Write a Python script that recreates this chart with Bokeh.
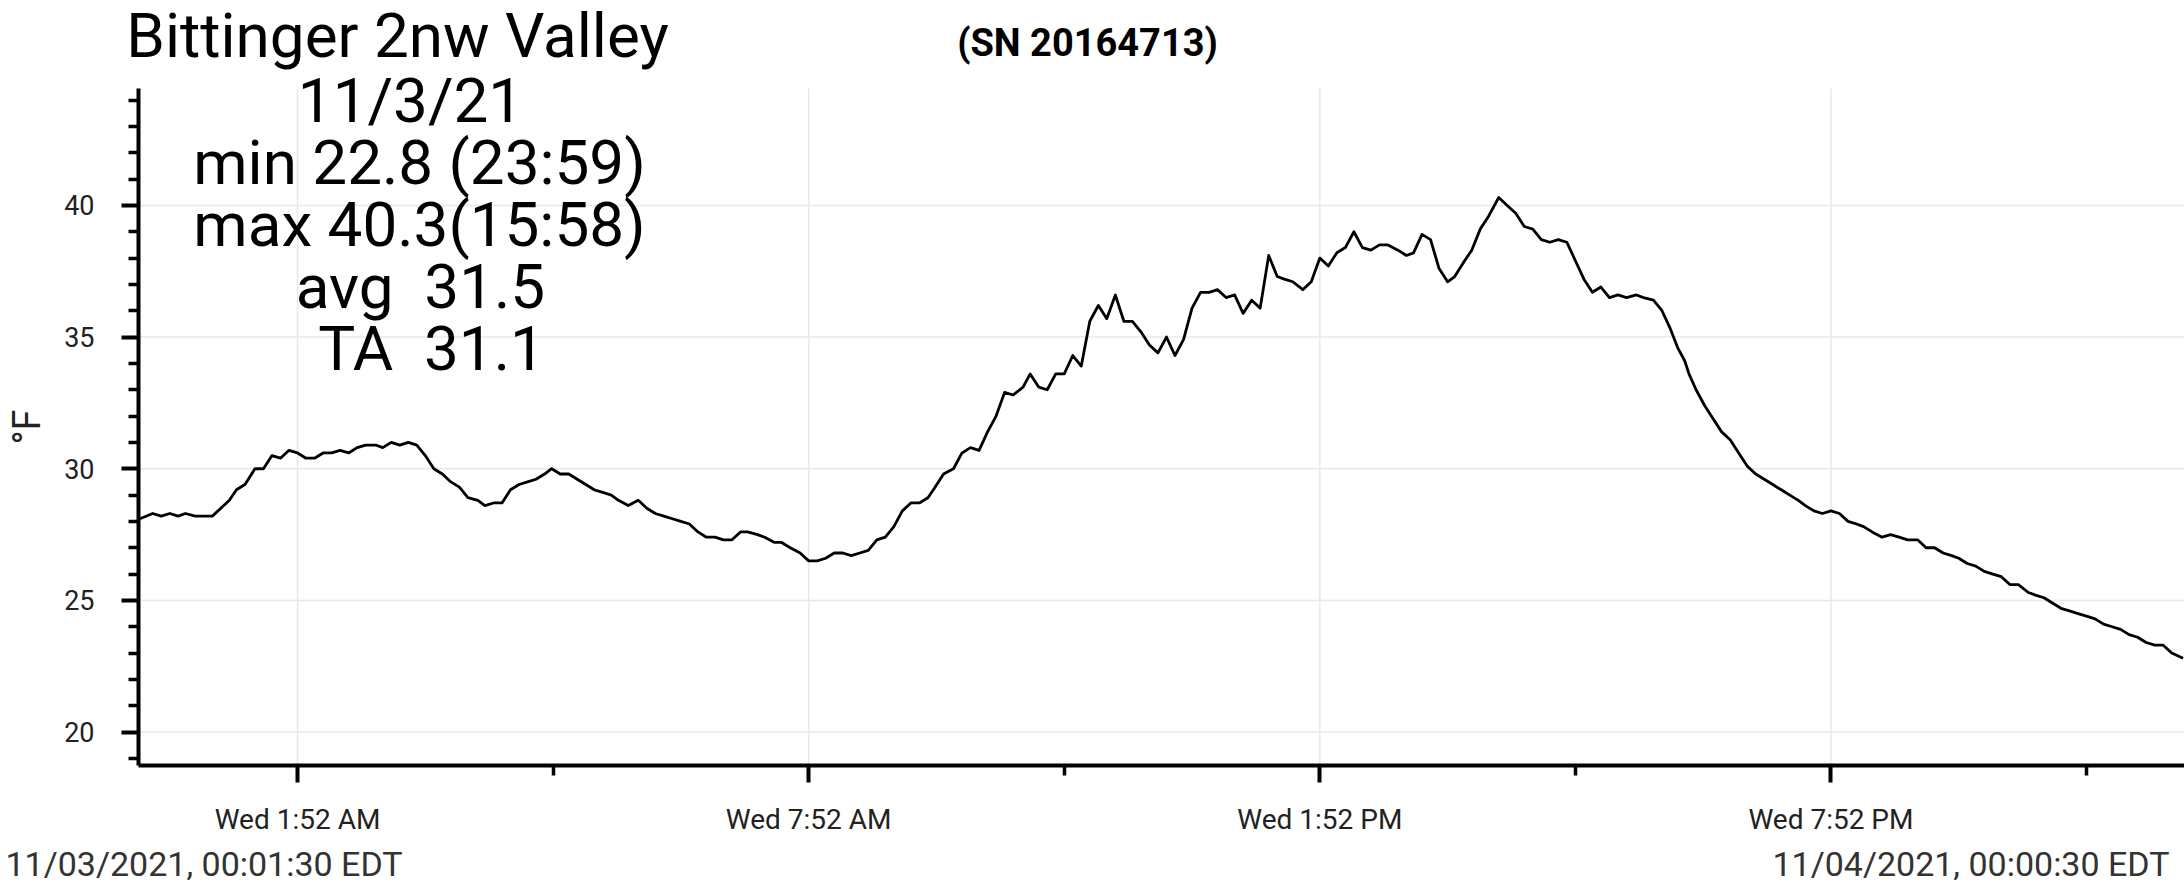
from bokeh.plotting import figure
from bokeh.models import Range1d, FixedTicker, Label
from bokeh.embed import file_html
from bokeh.resources import INLINE

# ---- data (minutes since midnight, °F) ----
minutes = [1, 10, 16, 22, 28, 33, 40, 46, 52, 58, 64, 69, 75, 82, 88, 94, 100, 106, 112, 118,
           124, 130, 136, 142, 148, 154, 160, 167, 172, 178, 184, 190, 196, 202, 208, 214, 220, 226, 232, 239,
           244, 250, 256, 262, 268, 274, 280, 286, 291, 297, 303, 309, 315, 321, 327, 333, 338, 345, 352, 358,
           364, 370, 376, 382, 388, 394, 400, 406, 412, 418, 424, 429, 436, 441, 448, 453, 459, 466, 472, 478,
           484, 490, 496, 502, 508, 514, 520, 526, 532, 538, 544, 550, 556, 561, 567, 574, 580, 586, 592, 598,
           604, 610, 616, 623, 628, 634, 640, 646, 652, 658, 664, 670, 676, 682, 688, 694, 700, 706, 712, 718,
           724, 730, 736, 742, 748, 754, 760, 766, 772, 778, 784, 790, 796, 802, 807, 813, 820, 826, 832, 838,
           844, 850, 856, 862, 868, 874, 880, 887, 893, 898, 904, 910, 916, 922, 927, 934, 939, 945, 951, 958,
           964, 970, 976, 982, 988, 994, 1000, 1006, 1012, 1018, 1024, 1030, 1036, 1042, 1048, 1055, 1060, 1067, 1073, 1079,
           1084, 1089, 1092, 1097, 1103, 1109, 1115, 1121, 1127, 1133, 1139, 1145, 1151, 1157, 1163, 1169, 1174, 1180, 1186, 1192,
           1198, 1204, 1210, 1215, 1221, 1228, 1234, 1240, 1246, 1253, 1259, 1265, 1271, 1277, 1282, 1288, 1294, 1300, 1306, 1312,
           1318, 1324, 1331, 1336, 1342, 1348, 1354, 1360, 1366, 1372, 1378, 1384, 1390, 1396, 1402, 1408, 1414, 1420, 1426, 1432,
           1440]
temps_f = [28.1, 28.3, 28.2, 28.3, 28.2, 28.3, 28.2, 28.2, 28.2, 28.5, 28.8, 29.2, 29.4, 30.0, 30.0, 30.5, 30.4, 30.7, 30.6, 30.4,
           30.4, 30.6, 30.6, 30.7, 30.6, 30.8, 30.9, 30.9, 30.8, 31.0, 30.9, 31.0, 30.9, 30.5, 30.0, 29.8, 29.5, 29.3, 28.9, 28.8,
           28.6, 28.7, 28.7, 29.2, 29.4, 29.5, 29.6, 29.8, 30.0, 29.8, 29.8, 29.6, 29.4, 29.2, 29.1, 29.0, 28.8, 28.6, 28.8, 28.5,
           28.3, 28.2, 28.1, 28.0, 27.9, 27.6, 27.4, 27.4, 27.3, 27.3, 27.6, 27.6, 27.5, 27.4, 27.2, 27.2, 27.0, 26.8, 26.5, 26.5,
           26.6, 26.8, 26.8, 26.7, 26.8, 26.9, 27.3, 27.4, 27.8, 28.4, 28.7, 28.7, 28.9, 29.3, 29.8, 30.0, 30.6, 30.8, 30.7, 31.4,
           32.0, 32.9, 32.8, 33.1, 33.6, 33.1, 33.0, 33.6, 33.6, 34.3, 33.9, 35.6, 36.2, 35.7, 36.6, 35.6, 35.6, 35.2, 34.7, 34.4,
           35.0, 34.3, 34.9, 36.1, 36.7, 36.7, 36.8, 36.5, 36.6, 35.9, 36.4, 36.1, 38.1, 37.3, 37.2, 37.1, 36.8, 37.1, 38.0, 37.7,
           38.2, 38.4, 39.0, 38.4, 38.3, 38.5, 38.5, 38.3, 38.1, 38.2, 38.9, 38.7, 37.6, 37.1, 37.3, 37.9, 38.3, 39.1, 39.6, 40.3,
           40.0, 39.7, 39.2, 39.1, 38.7, 38.6, 38.7, 38.6, 37.9, 37.2, 36.7, 36.9, 36.5, 36.6, 36.5, 36.6, 36.5, 36.4, 36.0, 35.3,
           34.6, 34.1, 33.6, 33.0, 32.4, 31.9, 31.4, 31.1, 30.6, 30.1, 29.8, 29.6, 29.4, 29.2, 29.0, 28.8, 28.6, 28.4, 28.3, 28.4,
           28.3, 28.0, 27.9, 27.8, 27.6, 27.4, 27.5, 27.4, 27.3, 27.3, 27.0, 27.0, 26.8, 26.7, 26.6, 26.4, 26.3, 26.1, 26.0, 25.9,
           25.6, 25.6, 25.3, 25.2, 25.1, 24.9, 24.7, 24.6, 24.5, 24.4, 24.3, 24.1, 24.0, 23.9, 23.7, 23.6, 23.4, 23.3, 23.3, 23.0,
           22.8]

x_tick_minutes = [112, 472, 832, 1192]
x_tick_labels = ["Wed 1:52 AM", "Wed 7:52 AM", "Wed 1:52 PM", "Wed 7:52 PM"]
x_minor_minutes = [292, 652, 1012, 1372]
y_ticks = [20, 25, 30, 35, 40]
y_minor_ticks = [19, 21, 22, 23, 24, 26, 27, 28, 29, 31, 32, 33, 34, 36, 37, 38, 39, 41, 42, 43, 44]

title_text = "Bittinger 2nw Valley"
serial_text = "(SN 20164713)"
stat_lines = ["11/3/21", "min 22.8 (23:59)", "max 40.3(15:58)", "avg \u00a031.5", "TA \u00a031.1"]
start_text = "11/03/2021, 00:01:30 EDT"
end_text = "11/04/2021, 00:00:30 EDT"
y_label = "°F"

# plotted data window
X0, X1 = 0, 1441
Y0, Y1 = 18.73, 44.44

# ---- layout (page pixels) ----
W, H = 2184, 896
FL, FR, FT, FB = 138, 2184, 88, 765          # where the plot area sits on the page
ppx = (FR - FL) / (X1 - X0)                    # px per minute
ppy = (FB - FT) / (Y1 - Y0)                    # px per degree
# the frame spans the whole canvas so that texts above/below the plot area are not clipped;
# axes are pinned to the data window with fixed_location + bounds
XR = Range1d(X0 - FL / ppx, X1 + (W - FR) / ppx)
YR = Range1d(Y0 - (H - FB) / ppy, Y1 + FT / ppy)

p = figure(width=W, height=H, output_backend="svg", toolbar_location=None,
           x_range=XR, y_range=YR, min_border=0,
           min_border_left=0, min_border_right=0, min_border_top=0, min_border_bottom=0)
p.outline_line_color = None
p.background_fill_color = "white"
p.border_fill_color = "white"
p.xgrid.visible = False
p.ygrid.visible = False

# grid lines limited to the data window
p.segment(x0=x_tick_minutes, y0=[Y0] * len(x_tick_minutes), x1=x_tick_minutes, y1=[Y1] * len(x_tick_minutes),
          line_color="#e8e8e8", line_width=1.5)
p.segment(x0=[X0] * len(y_ticks), y0=y_ticks, x1=[X1] * len(y_ticks), y1=y_ticks,
          line_color="#e8e8e8", line_width=1.5)

p.line(minutes, temps_f, line_color="black", line_width=2.8, line_join="round")

# axes
p.xaxis.ticker = FixedTicker(ticks=x_tick_minutes, minor_ticks=x_minor_minutes)
p.xaxis.major_label_overrides = {k: v for k, v in zip(x_tick_minutes, x_tick_labels)}
p.yaxis.ticker = FixedTicker(ticks=y_ticks, minor_ticks=y_minor_ticks)
p.xaxis.fixed_location = Y0
p.xaxis.bounds = (X0, X1)
p.yaxis.fixed_location = X0
p.yaxis.bounds = (Y0, Y1)
for ax in (p.xaxis[0], p.yaxis[0]):
    ax.axis_line_width = 4
    ax.axis_line_color = "black"
    ax.major_tick_line_width = 4
    ax.minor_tick_line_width = 3.5
    ax.major_tick_line_color = "black"
    ax.minor_tick_line_color = "black"
    ax.major_tick_in = 0
    ax.minor_tick_in = 0
    ax.major_tick_out = 17
    ax.minor_tick_out = 10
    ax.major_label_text_font = "Roboto"
    ax.major_label_text_color = "#222222"
p.xaxis.major_label_text_font_size = "28px"
p.yaxis.major_label_text_font_size = "27px"
p.xaxis.major_label_standoff = 20
p.yaxis.major_label_standoff = 27
p.yaxis.axis_label = y_label
p.yaxis.axis_label_text_font = "Roboto"
p.yaxis.axis_label_text_font_size = "38px"
p.yaxis.axis_label_text_font_style = "normal"
p.yaxis.axis_label_text_color = "#222222"
p.yaxis.axis_label_standoff = 12


def add_text(text, px, py, size, align="center", bold=False, color="black"):
    # screen units measured from the canvas' bottom-left corner (frame == canvas)
    p.add_layout(Label(x=px, y=H - py, x_units="screen", y_units="screen", text=text,
                       text_align=align, text_baseline="alphabetic", text_font="Roboto",
                       text_font_size=size, text_font_style="bold" if bold else "normal",
                       text_color=color))


add_text(title_text, 397, 35, "62px")
add_text(serial_text, 1087, 42, "38px", bold=True)
stat_centers = [410, 419, 419, 420, 431]
stat_baselines = [100, 162, 224, 286, 348]
for t, cx, by in zip(stat_lines, stat_centers, stat_baselines):
    add_text(t, cx, by, "62px")
add_text(start_text, 5, 863, "34px", align="left", color="#333333")
add_text(end_text, 2169, 863, "34px", align="right", color="#333333")

open("out.html", "w").write(file_html(p, INLINE))
